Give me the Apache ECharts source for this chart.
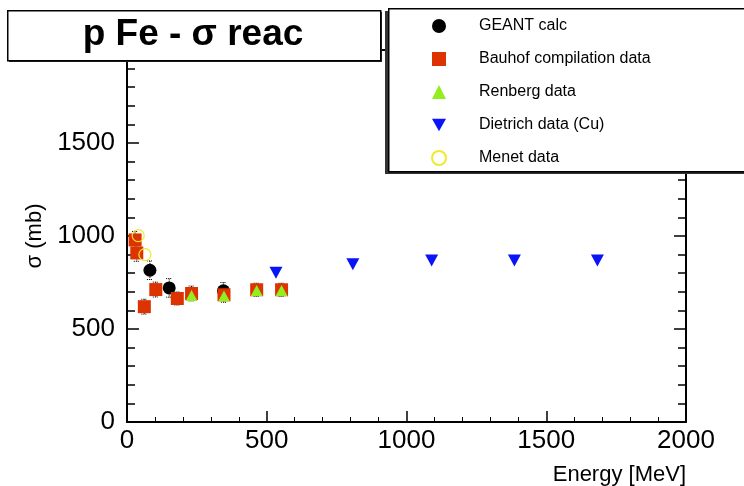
<!DOCTYPE html>
<html>
<head>
    <meta charset="utf-8">
    <title>p Fe - sigma reac</title>
    <script src="https://cdn.jsdelivr.net/npm/echarts@6.0.0/dist/echarts.min.js"></script>
</head>
<body style="margin:0">
<div id="main" style="width: 744px;height:486px;"></div>
<script type="text/javascript">
    // energy [MeV], sigma [mb]
    var geantE = [82, 151, 345];
    var geantS = [816, 721, 705];
    var geantErr = [50, 50, 45];
    var bauhofE = [29, 35, 62, 103, 180, 231, 347, 464, 553];
    var bauhofS = [979, 909, 620, 712, 664, 691, 684, 711, 711];
    var bauhofErr = [45, 45, 40, 40, 35, 40, 40, 35, 35];
    var renbergE = [231, 347, 464, 553];
    var renbergS = [680, 677, 707, 707];
    var dietrichE = [533, 808, 1090, 1386, 1683];
    var dietrichS = [802, 848, 868, 868, 868];
    var menetE = [40, 64];
    var menetS = [1002, 900];
    var xTicks = [0, 500, 1000, 1500, 2000];
    var yTicks = [0, 500, 1000, 1500, 2000];

    function pairs(xs, ys) {
        return xs.map(function (x, i) { return [x, ys[i]]; });
    }

    var errData = geantE.map(function (x, i) { return [x, geantS[i], geantErr[i]]; })
        .concat(bauhofE.map(function (x, i) { return [x, bauhofS[i], bauhofErr[i]]; }));

    var font = 'Liberation Sans, Arial, sans-serif';
    var downTri = 'path://M0,0 L10,0 L5,9 Z';
    var myChart = echarts.init(document.getElementById('main'));

    var axisBase = {
        type: 'value',
        splitLine: {show: false},
        axisLine: {show: true, onZero: false, lineStyle: {color: '#000', width: 2}},
        minorTick: {show: true, splitNumber: 5},
        axisLabel: {color: '#000', fontFamily: font, fontSize: 26,
            formatter: function (v) { return String(v); }}
    };

    var option = {
        animation: false,
        backgroundColor: '#fff',
        grid: {left: 127, right: 58, top: 50, bottom: 63},
        xAxis: [
            echarts.util.merge({
                min: xTicks[0], max: xTicks[xTicks.length - 1], interval: 500,
                position: 'bottom',
                name: 'Energy [MeV]',
                nameLocation: 'end',
                nameGap: 0,
                nameTextStyle: {color: '#000', fontFamily: font, fontSize: 22,
                    align: 'right', verticalAlign: 'top', padding: [42, 0, 0, 0]},
                axisTick: {inside: true, length: 11, lineStyle: {color: '#000', width: 1.5}},
                minorTick: {length: 5, lineStyle: {color: '#000', width: 1}},
                axisLabel: {margin: 6}
            }, axisBase, false),
            echarts.util.merge({
                min: xTicks[0], max: xTicks[xTicks.length - 1], interval: 500,
                position: 'top',
                axisTick: {inside: true, length: 11, lineStyle: {color: '#000', width: 1.5}},
                minorTick: {length: 5, lineStyle: {color: '#000', width: 1}},
                axisLabel: {show: false}
            }, axisBase, false)
        ],
        yAxis: [
            echarts.util.merge({
                min: yTicks[0], max: yTicks[yTicks.length - 1], interval: 500,
                position: 'left',
                name: 'σ (mb)',
                nameLocation: 'middle',
                nameGap: 62,
                nameTextStyle: {color: '#000', fontFamily: font, fontSize: 22},
                axisTick: {inside: true, length: 12, lineStyle: {color: '#000', width: 1.5}},
                minorTick: {length: 8, lineStyle: {color: '#000', width: 1.5}},
                axisLabel: {margin: 12, showMaxLabel: false}
            }, axisBase, false),
            echarts.util.merge({
                min: yTicks[0], max: yTicks[yTicks.length - 1], interval: 500,
                position: 'right',
                axisTick: {inside: true, length: 12, lineStyle: {color: '#000', width: 1.5}},
                minorTick: {length: 8, lineStyle: {color: '#000', width: 1.5}},
                axisLabel: {show: false}
            }, axisBase, false)
        ],
        legend: {
            orient: 'vertical',
            left: 426,
            top: 13,
            itemWidth: 14,
            itemHeight: 14,
            itemGap: 17,
            z: 20,
            textStyle: {color: '#000', fontFamily: font, fontSize: 16, lineHeight: 14,
                padding: [0, 0, 0, 28]},
            data: ['GEANT calc', 'Bauhof compilation data', 'Renberg data', 'Dietrich data (Cu)', 'Menet data']
        },
        series: [
            {
                type: 'custom',
                silent: true,
                z: 1,
                data: errData,
                renderItem: function (params, api) {
                    var x = api.value(0), y = api.value(1), e = api.value(2);
                    var top = api.coord([x, y + e]);
                    var bot = api.coord([x, y - e]);
                    var style = {stroke: '#000', lineWidth: 1, lineDash: [1, 1]};
                    return {
                        type: 'group',
                        children: [
                            {type: 'line', shape: {x1: top[0], y1: top[1], x2: bot[0], y2: bot[1]}, style: style},
                            {type: 'line', shape: {x1: top[0] - 3, y1: top[1], x2: top[0] + 3, y2: top[1]}, style: style},
                            {type: 'line', shape: {x1: bot[0] - 3, y1: bot[1], x2: bot[0] + 3, y2: bot[1]}, style: style}
                        ]
                    };
                }
            },
            {
                name: 'GEANT calc', type: 'scatter', symbol: 'circle', symbolSize: 13, z: 2,
                itemStyle: {color: '#000', opacity: 1},
                data: pairs(geantE, geantS)
            },
            {
                name: 'Bauhof compilation data', type: 'scatter', symbol: 'rect', symbolSize: 13, z: 3,
                itemStyle: {color: '#dd3300', opacity: 1},
                data: pairs(bauhofE, bauhofS)
            },
            {
                name: 'Renberg data', type: 'scatter', symbol: 'triangle', symbolSize: [12, 11], z: 4,
                itemStyle: {color: '#92ee1e', opacity: 1},
                data: pairs(renbergE, renbergS)
            },
            {
                name: 'Dietrich data (Cu)', type: 'scatter', symbol: downTri, z: 4,
                symbolSize: [13, 12],
                itemStyle: {color: '#0a14f5', opacity: 1},
                data: pairs(dietrichE, dietrichS)
            },
            {
                name: 'Menet data', type: 'scatter', symbol: 'circle', symbolSize: 12, z: 5,
                itemStyle: {color: 'rgba(0,0,0,0)', borderColor: '#f0ea2a', borderWidth: 1.2, opacity: 1},
                data: pairs(menetE, menetS)
            }
        ],
        graphic: {
            elements: [
                // title pave with shadow
                {type: 'rect', left: 9, top: 12, z: 10, shape: {width: 373, height: 50},
                    style: {fill: '#333'}},
                {type: 'rect', left: 7, top: 10, z: 11, shape: {width: 373, height: 50},
                    style: {fill: '#fff', stroke: '#000', lineWidth: 1.5}},
                {type: 'text', x: 193, y: 35, z: 12,
                    style: {text: 'p Fe - σ reac', fill: '#000', font: 'bold 37px ' + font,
                        align: 'center', verticalAlign: 'middle'}},
                // legend pave with shadow
                {type: 'rect', left: 385, top: 11, z: 10, shape: {width: 380, height: 163},
                    style: {fill: '#333'}},
                {type: 'rect', left: 388, top: 8, z: 11, shape: {width: 380, height: 163},
                    style: {fill: '#fff', stroke: '#000', lineWidth: 1.5}}
            ]
        }
    };

    myChart.setOption(option);
</script>
</body>
</html>
